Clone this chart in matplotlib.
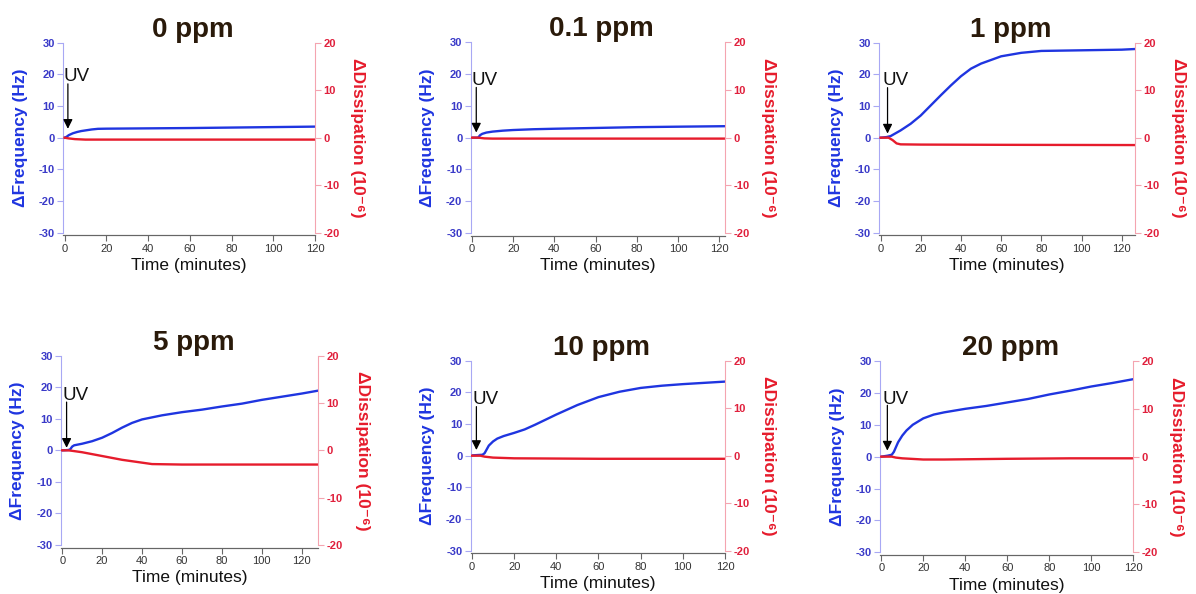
import matplotlib
matplotlib.use("Agg")
import matplotlib.pyplot as plt

plt.rcParams['font.family'] = ['Liberation Sans', 'DejaVu Sans']
plt.rcParams['axes.unicode_minus'] = False

titles = ["0 ppm", "0.1 ppm", "1 ppm", "5 ppm", "10 ppm", "20 ppm"]

# frequency traces (Hz) vs time (minutes)
t0_f = [0, 1, 2, 4, 6, 8, 10, 13, 16, 20, 30, 40, 60, 80, 100, 120]
f0 = [0, 0.3, 0.8, 1.4, 1.8, 2.1, 2.3, 2.6, 2.8, 2.85, 2.9, 2.95, 3.05, 3.2, 3.35, 3.5]
t01_f = [0, 3, 3.5, 4, 5, 7, 10, 15, 20, 30, 40, 60, 80, 100, 122.5]
f01 = [0, 0, 0.4, 0.8, 1.2, 1.6, 1.9, 2.2, 2.4, 2.65, 2.8, 3.05, 3.3, 3.45, 3.6]
t1_f = [0, 3, 5, 10, 15, 20, 25, 30, 35, 40, 45, 50, 60, 70, 80, 100, 120, 126.5]
f1 = [0, 0.2, 0.5, 2.3, 4.4, 7, 10.2, 13.4, 16.5, 19.4, 21.8, 23.4, 25.7, 26.8, 27.4, 27.6, 27.8, 28.0]
t5_f = [0, 3, 4, 5, 6, 10, 15, 20, 25, 30, 35, 40, 50, 60, 70, 80, 90, 100, 110, 120, 128]
f5 = [0, 0.1, 0.3, 1.2, 1.6, 2.1, 2.9, 4.0, 5.5, 7.2, 8.7, 9.8, 11.1, 12.1, 12.9, 13.9, 14.8, 16.0, 17.0, 18.0, 18.9]
t10_f = [0, 5, 6, 7, 8, 10, 12, 15, 20, 25, 30, 40, 50, 60, 70, 80, 90, 100, 110, 120]
f10 = [0.1, 0.3, 0.8, 2.0, 3.2, 4.5, 5.4, 6.2, 7.2, 8.3, 9.8, 13.0, 16.0, 18.5, 20.2, 21.4, 22.1, 22.6, 23.0, 23.4]
t20_f = [0, 3, 5, 6, 8, 10, 12, 15, 20, 25, 30, 40, 50, 60, 70, 80, 90, 100, 110, 120]
f20 = [0, 0.3, 0.6, 1.5, 4.5, 6.6, 8.2, 10.0, 12.0, 13.2, 13.9, 15.0, 15.9, 17.0, 18.1, 19.5, 20.7, 22.0, 23.1, 24.3]

# dissipation traces (1e-6) vs time (minutes)
t0_d = [0, 2, 5, 10, 20, 60, 120]
d0 = [0, -0.15, -0.3, -0.4, -0.4, -0.4, -0.4]
t01_d = [0, 3, 6, 10, 122.5]
d01 = [0, 0, -0.15, -0.2, -0.2]
t1_d = [0, 4, 6, 8, 10, 20, 60, 126.5]
d1 = [0, 0, -0.5, -1.2, -1.4, -1.45, -1.5, -1.55]
t5_d = [0, 3, 5, 10, 20, 30, 40, 45, 60, 128]
d5 = [0, 0, -0.1, -0.4, -1.2, -2.0, -2.6, -2.9, -3.0, -3.0]
t10_d = [0, 4, 6, 10, 20, 60, 120]
d10 = [0, 0, -0.2, -0.4, -0.55, -0.65, -0.65]
t20_d = [0, 5, 7, 10, 20, 30, 60, 90, 120]
d20 = [0, 0, -0.2, -0.35, -0.6, -0.6, -0.45, -0.35, -0.35]

freq = [(t0_f, f0), (t01_f, f01), (t1_f, f1), (t5_f, f5), (t10_f, f10), (t20_f, f20)]
diss = [(t0_d, d0), (t01_d, d01), (t1_d, d1), (t5_d, d5), (t10_d, d10), (t20_d, d20)]
xmax = [120, 122.8, 126.6, 128.3, 120, 120]

# UV marker: arrow time, arrow tip / tail (Hz), text x, text baseline (Hz)
uv_t = [1.6, 2.1, 3.5, 2.2, 2.1, 2.9]
uv_tip = [2.8, 1.6, 1.3, 0.8, 1.8, 1.9]
uv_tail = [17, 15.8, 15.8, 15.3, 15.5, 16.1]
uv_tx = [-0.3, 0, 1.0, 0.3, 0.2, 0.6]
uv_ty = [18, 16.5, 16.5, 16, 16.3, 16.6]

# axes rectangles in pixels: left, right, top, bottom
rects_px = [(63.3, 315, 42.7, 232.7), (470.7, 725, 42.3, 233), (879.3, 1135, 42.7, 232.7),
            (61, 318.3, 355.7, 545), (470.7, 725, 360.7, 550.7), (880, 1133.3, 361, 552.3)]

W, H = 1196, 594
BLUE = "#1f35e0"
RED = "#e61c2c"
BLUE_TXT = "#3a3ac8"
RED_TXT = "#e0203c"

fig = plt.figure(figsize=(W / 100, H / 100), dpi=100)

for i in range(6):
    l, r, tp, b = rects_px[i]
    ax = fig.add_axes([l / W, 1 - b / H, (r - l) / W, (b - tp) / H])
    ax2 = ax.twinx()

    t, f = freq[i]
    ax.plot(t, f, color=BLUE, lw=1.7)
    td, d = diss[i]
    ax2.plot(td, d, color=RED, lw=1.7)

    ax.set_xlim(-0.6, xmax[i])
    ax.set_ylim(-30, 30)
    ax2.set_ylim(-20, 20)
    ax.set_xticks(range(0, 121, 20))
    ax.set_yticks(range(-30, 31, 10))
    ax2.set_yticks(range(-20, 21, 10))

    for a in (ax, ax2):
        a.spines['top'].set_visible(False)
        a.spines['bottom'].set_color("#666666")
        a.spines['bottom'].set_position(('outward', 2))
    ax.spines['right'].set_visible(False)
    ax2.spines['left'].set_visible(False)
    ax.spines['left'].set_color("#a8a8f4")
    ax2.spines['right'].set_color("#f4a4b0")

    ax.tick_params(axis='y', colors="#a8a8f4", labelcolor=BLUE_TXT, labelsize=8, length=4, pad=2)
    for lab in ax.get_yticklabels():
        lab.set_fontweight('bold')
    ax2.tick_params(axis='y', colors="#f4a4b0", labelcolor=RED_TXT, labelsize=8, length=4, pad=2)
    for lab in ax2.get_yticklabels():
        lab.set_fontweight('bold')
    ax.tick_params(axis='x', colors="#666666", labelcolor="#333333", labelsize=8, length=4, pad=2)

    ax.set_xlabel("Time (minutes)", fontsize=12.5, color="#111111", labelpad=3)
    ax.set_ylabel("ΔFrequency (Hz)", fontsize=12.5, fontweight='bold', color=BLUE)
    ax.yaxis.set_label_coords(-0.14, 0.5)
    ax2.set_ylabel("ΔDissipation (10⁻⁶)", fontsize=12.5, fontweight='bold', color=RED, rotation=270)
    ax2.yaxis.set_label_coords(1.20, 0.5)

    ax.set_title(titles[i], fontsize=20, fontweight='bold', color="#2a1a0a", pad=4, x=0.515)

    ax.annotate('', xy=(uv_t[i], uv_tip[i]), xytext=(uv_t[i], uv_tail[i]),
                arrowprops=dict(arrowstyle='-|>', color='black', lw=0.9,
                                mutation_scale=14, shrinkA=0, shrinkB=0))
    ax.text(uv_tx[i], uv_ty[i], "UV", fontsize=13.5, color="#111111", va='baseline', ha='left')

fig.savefig("out.png", dpi=100)
